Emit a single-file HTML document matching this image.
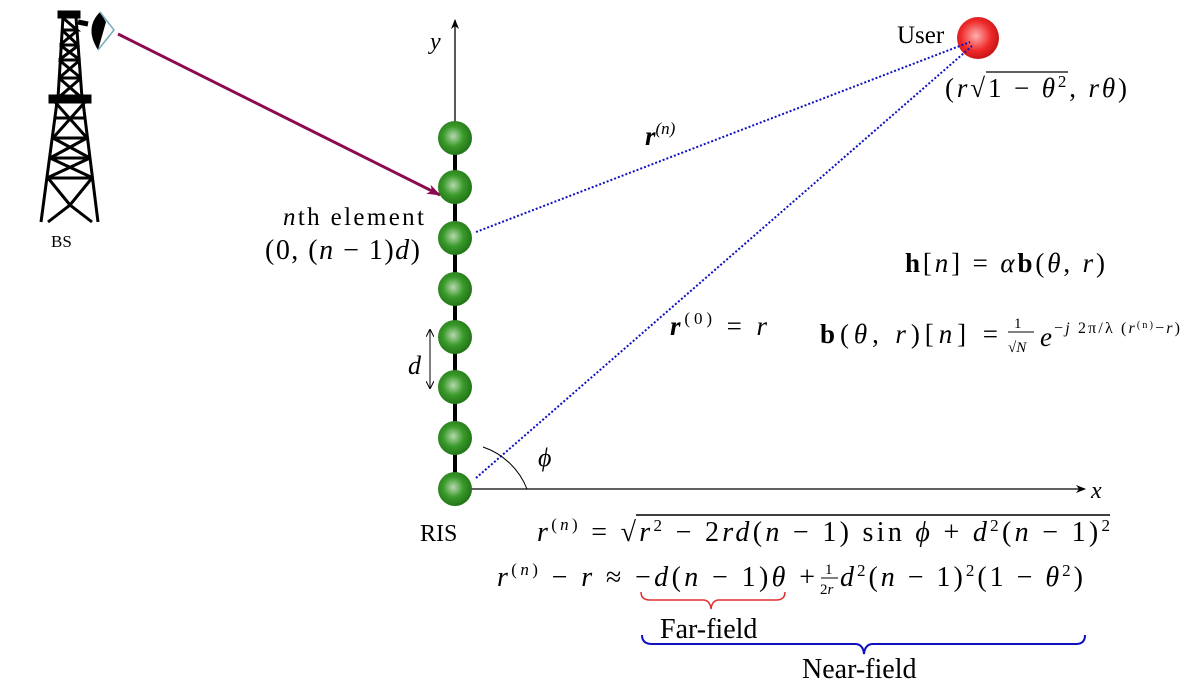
<!DOCTYPE html>
<html><head><meta charset="utf-8"><style>
body{margin:0;background:#fff}
svg{display:block}
text{font-family:"Liberation Serif",serif;fill:#000}
.i{font-style:italic}
</style></head><body>
<svg width="1184" height="687" viewBox="0 0 1184 687">
<defs>
<radialGradient id="g" cx="0.45" cy="0.45" r="0.6"><stop offset="0" stop-color="#b8d8b0"/><stop offset="0.5" stop-color="#3a9a2a"/><stop offset="1" stop-color="#1e6e14"/></radialGradient>
<radialGradient id="rg" cx="0.45" cy="0.45" r="0.6"><stop offset="0" stop-color="#ffb0b0"/><stop offset="0.6" stop-color="#ee2a2a"/><stop offset="1" stop-color="#c01010"/></radialGradient>
<marker id="ah" markerWidth="10" markerHeight="8" refX="9" refY="4" orient="auto" markerUnits="userSpaceOnUse"><path d="M0,0 L10,4 L0,8 L3,4z" fill="#000"/></marker>
<marker id="ap" markerWidth="14" markerHeight="10" refX="13" refY="5" orient="auto" markerUnits="userSpaceOnUse"><path d="M0,0 L14,5 L0,10 L4,5z" fill="#8b0a50"/></marker>
<marker id="sa" markerWidth="8" markerHeight="8" refX="7" refY="4" orient="auto-start-reverse" markerUnits="userSpaceOnUse"><path d="M0,0 L8,4 L0,8" fill="none" stroke="#000"/></marker>
</defs>
<g stroke="#000" stroke-width="3" fill="none">
<rect x="59" y="12" width="20" height="5" fill="#000"/>
<path d="M63,17 L58,98 M76,17 L82,98"/>
<path d="M61,30 L78,30 M60,45 L79,45 M60,60 L80,60 M59,78 L81,78 M62,17 L77,30 L61,30 M62,30 L78,45 M78,30 L60,45 M60,45 L80,60 M79,45 L59,60 M59,60 L81,78 M80,60 L59,78 M59,78 L82,98 M81,78 L58,98"/>
<rect x="50" y="96" width="40" height="6" fill="#000"/>
<path d="M57,102 L41,222 M83,102 L98,222"/>
<path d="M55,118 L85,118 M53,138 L87,138 M50,158 L90,158 M47,178 L93,178 M55,102 L87,138 M85,102 L53,138 M53,138 L90,158 M87,138 L50,158 M50,158 L93,178 M90,158 L47,178 M48,178 L70,205 L92,222 M92,178 L70,205 L48,222"/>
<path d="M78,22 L88,24" stroke-width="5"/>
</g>
<path d="M100,12 Q84,28 98,50 L106,22z" fill="#000"/>
<path d="M100,12 L114,30 L98,50" fill="none" stroke="#7ab" stroke-width="1.5"/>
<text x="51" y="247" font-size="17">BS</text>
<line x1="118" y1="34" x2="440" y2="195" stroke="#8b0a50" stroke-width="3" marker-end="url(#ap)"/>
<line x1="455" y1="490" x2="455" y2="20" stroke="#000" stroke-width="1.3" marker-end="url(#ah)"/>
<line x1="455" y1="489" x2="1085" y2="489" stroke="#000" stroke-width="1.3" marker-end="url(#ah)"/>
<line x1="455" y1="140" x2="455" y2="489" stroke="#000" stroke-width="4"/>
<text x="430" y="49" font-size="24" class="i">y</text>
<text x="1091" y="498" font-size="24" class="i">x</text>
<g fill="url(#g)">
<circle cx="455" cy="138" r="17"/><circle cx="455" cy="187" r="17"/><circle cx="455" cy="238" r="17"/><circle cx="455" cy="289" r="17"/><circle cx="455" cy="337" r="17"/><circle cx="455" cy="387" r="17"/><circle cx="455" cy="438" r="17"/><circle cx="455" cy="489" r="17"/>
</g>
<circle cx="978" cy="38" r="21" fill="url(#rg)"/>
<line x1="476" y1="232" x2="970" y2="42" stroke="#1010c0" stroke-width="2" stroke-dasharray="2,2"/>
<line x1="476" y1="478" x2="972" y2="46" stroke="#1010c0" stroke-width="2" stroke-dasharray="2,2"/>
<path d="M527,489 A72,72 0 0 0 483,447" fill="none" stroke="#000"/>
<line x1="430" y1="330" x2="430" y2="388" stroke="#000" marker-start="url(#sa)" marker-end="url(#sa)"/>
<text x="408" y="374" font-size="26" class="i">d</text>
<text x="538" y="466" font-size="26" class="i">ϕ</text>
<text x="420" y="541" font-size="24">RIS</text>
<text x="897" y="43" font-size="25">User</text>
<text x="945" y="97" font-size="27" textLength="182" lengthAdjust="spacing">(<tspan class="i">r</tspan>√1 − <tspan class="i">θ</tspan><tspan font-size="17" dy="-10">2</tspan><tspan dy="10">, </tspan><tspan class="i">rθ</tspan>)</text>
<line x1="986" y1="72" x2="1068" y2="72" stroke="#000" stroke-width="1.3"/>
<text x="645" y="145" font-size="27" class="i" font-weight="bold">r<tspan font-size="17" dy="-11" font-weight="normal">(n)</tspan></text>
<text x="283" y="225" font-size="25" textLength="141" lengthAdjust="spacing"><tspan class="i">n</tspan>th element</text>
<text x="265" y="259" font-size="28" textLength="155" lengthAdjust="spacing">(0, (<tspan class="i">n</tspan> − 1)<tspan class="i">d</tspan>)</text>
<text x="670" y="335" font-size="27" textLength="97" lengthAdjust="spacing"><tspan class="i" font-weight="bold">r</tspan><tspan font-size="17" dy="-11">(0)</tspan><tspan dy="11"> = </tspan><tspan class="i">r</tspan></text>
<text x="905" y="272" font-size="27" textLength="200" lengthAdjust="spacing"><tspan font-weight="bold">h</tspan>[<tspan class="i">n</tspan>] = <tspan class="i">α</tspan><tspan font-weight="bold">b</tspan>(<tspan class="i">θ</tspan>, <tspan class="i">r</tspan>)</text>
<text x="820" y="343" font-size="27" textLength="178" lengthAdjust="spacing"><tspan font-weight="bold">b</tspan>(<tspan class="i">θ</tspan>, <tspan class="i">r</tspan>)[<tspan class="i">n</tspan>] =</text>
<text x="1014" y="328" font-size="15">1</text><line x1="1008" y1="332" x2="1034" y2="332" stroke="#000"/>
<text x="1008" y="352" font-size="15">√<tspan class="i">N</tspan></text>
<text x="1040" y="346" font-size="27" class="i">e</text>
<text x="1054" y="333" font-size="16" textLength="126" lengthAdjust="spacing">−<tspan class="i">j</tspan> 2π/λ (<tspan class="i">r</tspan><tspan font-size="10" dy="-5">(n)</tspan><tspan dy="5">−</tspan><tspan class="i">r</tspan>)</text>
<text x="537" y="541" font-size="28" textLength="573" lengthAdjust="spacing"><tspan class="i">r</tspan><tspan font-size="17" dy="-11">(<tspan class="i">n</tspan>)</tspan><tspan dy="11"> = √</tspan><tspan class="i">r</tspan><tspan font-size="17" dy="-10">2</tspan><tspan dy="10"> − 2</tspan><tspan class="i">rd</tspan>(<tspan class="i">n</tspan> − 1) sin <tspan class="i">ϕ</tspan> + <tspan class="i">d</tspan><tspan font-size="17" dy="-10">2</tspan><tspan dy="10">(</tspan><tspan class="i">n</tspan> − 1)<tspan font-size="17" dy="-10">2</tspan></text>
<line x1="636" y1="515" x2="1110" y2="515" stroke="#000" stroke-width="1.5"/>
<text x="497" y="586" font-size="28" textLength="318" lengthAdjust="spacing"><tspan class="i">r</tspan><tspan font-size="17" dy="-11">(<tspan class="i">n</tspan>)</tspan><tspan dy="11"> − </tspan><tspan class="i">r</tspan> ≈ −<tspan class="i">d</tspan>(<tspan class="i">n</tspan> − 1)<tspan class="i">θ</tspan> +</text>
<text x="825" y="574" font-size="15">1</text><line x1="821" y1="578" x2="838" y2="578" stroke="#000"/>
<text x="820" y="594" font-size="15">2<tspan class="i">r</tspan></text>
<text x="840" y="586" font-size="28" textLength="243" lengthAdjust="spacing"><tspan class="i">d</tspan><tspan font-size="17" dy="-10">2</tspan><tspan dy="10">(</tspan><tspan class="i">n</tspan> − 1)<tspan font-size="17" dy="-10">2</tspan><tspan dy="10">(1 − </tspan><tspan class="i">θ</tspan><tspan font-size="17" dy="-10">2</tspan><tspan dy="10">)</tspan></text>
<path d="M641,592 Q641,600 650,600 L703,600 Q710,600 711,609 Q712,600 719,600 L776,600 Q785,600 785,592" fill="none" stroke="#e03030" stroke-width="1.5"/>
<text x="660" y="638" font-size="28">Far-field</text>
<path d="M642,635 Q642,644 652,644 L855,644 Q863,644 864,654 Q865,644 873,644 L1076,644 Q1085,644 1085,635" fill="none" stroke="#1010c0" stroke-width="2"/>
<text x="802" y="678" font-size="28">Near-field</text>
</svg>
</body></html>
